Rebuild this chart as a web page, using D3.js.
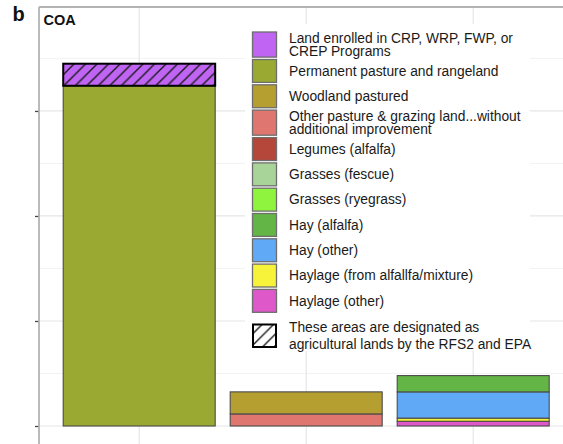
<!DOCTYPE html>
<html><head><meta charset="utf-8">
<script src="https://cdn.jsdelivr.net/npm/d3@7"></script>
<style>html,body{margin:0;padding:0;background:#fff;}svg{display:block;font-family:"Liberation Sans",Arial,sans-serif;}</style>
</head><body><svg id="chart" width="563" height="444"></svg>
<script>
// ---- data (units: one major y tick interval) ----
const categories = ["Pasture", "Grazing land", "Hay & haylage"];
const seriesNames = [
  "Land enrolled in CRP, WRP, FWP, or CREP Programs",
  "Permanent pasture and rangeland",
  "Woodland pastured",
  "Other pasture & grazing land...without additional improvement",
  "Legumes (alfalfa)",
  "Grasses (fescue)",
  "Grasses (ryegrass)",
  "Hay (alfalfa)",
  "Hay (other)",
  "Haylage (from alfallfa/mixture)",
  "Haylage (other)"
];
const legendLabels = [
  ["Land enrolled in CRP, WRP, FWP, or", "CREP Programs"],
  ["Permanent pasture and rangeland"],
  ["Woodland pastured"],
  ["Other pasture & grazing land...without", "additional improvement"],
  ["Legumes (alfalfa)"],
  ["Grasses (fescue)"],
  ["Grasses (ryegrass)"],
  ["Hay (alfalfa)"],
  ["Hay (other)"],
  ["Haylage (from alfallfa/mixture)"],
  ["Haylage (other)"]
];
const seriesColors = ["#c064f4", "#9aa931", "#b49f30", "#e07670", "#b5473a", "#a8d499", "#8ef43e", "#63b545", "#5fa9f6", "#f7f23a", "#df58c9"];
const crpValues        = [0.21, 0, 0];
const permanentValues  = [3.24, 0, 0];
const woodlandValues   = [0, 0.21, 0];
const otherPastureVals = [0, 0.115, 0];
const legumesValues    = [0, 0, 0];
const fescueValues     = [0, 0, 0];
const ryegrassValues   = [0, 0, 0];
const hayAlfalfaValues = [0, 0, 0.155];
const hayOtherValues   = [0, 0, 0.25];
const haylageAlfValues = [0, 0, 0.03];
const haylageOthValues = [0, 0, 0.045];
const hatchedSeries = ["Land enrolled in CRP, WRP, FWP, or CREP Programs"];
const yMajorTicks = [0, 1, 2, 3];
const yMinorTicks = [0.5, 1.5, 2.5, 3.5];
const panelLabel = "b";
const facetTitle = "COA";
const hatchLabel = ["These areas are designated as", "agricultural lands by the RFS2 and EPA"];

const allValues = [crpValues, permanentValues, woodlandValues, otherPastureVals, legumesValues,
  fescueValues, ryegrassValues, hayAlfalfaValues, hayOtherValues, haylageAlfValues, haylageOthValues];
const table = categories.map((c, i) => {
  const row = {category: c};
  seriesNames.forEach((s, j) => row[s] = allValues[j][i]);
  return row;
});

// ---- layout ----
const svg = d3.select("#chart");
const W = 563, H = 444;
const leftX = 39, topY = 7;
const x = d3.scaleBand().domain(categories).range([leftX, 573.4]).paddingInner(0.09).paddingOuter(0.145);
const y = d3.scaleLinear().domain([0, 3.99]).range([426, topY]);
const color = d3.scaleOrdinal().domain(seriesNames).range(seriesColors);

const defs = svg.append("defs");
function hatch(id, bg) {
  const p = defs.append("pattern").attr("id", id).attr("patternUnits", "userSpaceOnUse")
    .attr("width", 11.5).attr("height", 11.5);
  p.append("rect").attr("width", 11.5).attr("height", 11.5).attr("fill", bg);
  p.append("path").attr("d", "M-2,2 L2,-2 M0,11.5 L11.5,0 M9.5,13.5 L13.5,9.5")
    .attr("stroke", "#1a1a1a").attr("stroke-width", 1.4);
}
hatch("hatchPurple", color(seriesNames[0]));
hatch("hatchWhite", "#fff");

// grid
const grid = svg.append("g");
grid.selectAll(".minor").data(yMinorTicks).join("line")
  .attr("x1", leftX).attr("x2", W).attr("y1", d => y(d)).attr("y2", d => y(d))
  .attr("stroke", "#f0f0f0").attr("stroke-width", 0.8);
grid.selectAll(".major").data(yMajorTicks).join("line")
  .attr("x1", leftX).attr("x2", W).attr("y1", d => y(d)).attr("y2", d => y(d))
  .attr("stroke", "#e6e6e6").attr("stroke-width", 1.2);
grid.selectAll(".vx").data(categories).join("line")
  .attr("x1", d => x(d) + x.bandwidth() / 2).attr("x2", d => x(d) + x.bandwidth() / 2)
  .attr("y1", topY).attr("y2", H)
  .attr("stroke", "#e6e6e6").attr("stroke-width", 1.2);

// bars
const stackKeys = seriesNames.slice().reverse();
const stacked = d3.stack().keys(stackKeys)(table);
const barG = svg.append("g");
stacked.forEach(layer => {
  const key = layer.key;
  const isHatch = hatchedSeries.includes(key);
  barG.append("g").selectAll("rect").data(layer.filter(d => d[1] - d[0] > 0)).join("rect")
    .attr("x", d => x(d.data.category))
    .attr("width", x.bandwidth())
    .attr("y", d => y(d[1]))
    .attr("height", d => y(d[0]) - y(d[1]))
    .attr("fill", isHatch ? "url(#hatchPurple)" : color(key))
    .attr("stroke", isHatch ? "#000" : "#4a4a4a")
    .attr("stroke-width", isHatch ? 2 : 1.1);
});

// axis
const axisG = svg.append("g").attr("transform", `translate(${leftX},0)`)
  .call(d3.axisLeft(y).tickValues(yMajorTicks).tickSize(4).tickFormat(""));
axisG.select(".domain").remove();
axisG.selectAll(".tick line").attr("stroke", "#444").attr("stroke-width", 1.3);
svg.append("line").attr("x1", leftX).attr("x2", leftX).attr("y1", topY).attr("y2", H)
  .attr("stroke", "#b3b3b3").attr("stroke-width", 1.8);
svg.append("line").attr("x1", leftX).attr("x2", W).attr("y1", topY).attr("y2", topY)
  .attr("stroke", "#b3b3b3").attr("stroke-width", 1.8);

// titles
svg.append("text").attr("x", 12.5).attr("y", 21).attr("font-size", 20).attr("font-weight", "bold")
  .attr("fill", "#111").text(panelLabel);
svg.append("text").attr("x", 43.5).attr("y", 24.5).attr("font-size", 14.5).attr("font-weight", "bold")
  .attr("fill", "#111").text(facetTitle);

// legend
const lg = svg.append("g");
lg.append("rect").attr("x", 245).attr("y", 24).attr("width", 285).attr("height", 327).attr("fill", "#fff");
const fs = 13.8, lh = 13;
let yy = 32;
const keyX = 252.5, keyW = 24, textX = 289;
legendLabels.forEach((lines, i) => {
  const pitch = lines.length > 1 ? 27.5 : 25.3;
  const kh = pitch - 2.4;
  lg.append("rect").attr("x", keyX).attr("y", yy).attr("width", keyW).attr("height", kh)
    .attr("fill", color(seriesNames[i])).attr("stroke", "#6e6e6e").attr("stroke-width", 1.3);
  const cy = yy + kh / 2;
  const t = lg.append("text").attr("font-size", fs).attr("fill", "#1a1a1a");
  lines.forEach((ln, k) => {
    t.append("tspan").attr("x", textX)
      .attr("y", cy + (k - (lines.length - 1) / 2) * lh + fs * 0.35).text(ln);
  });
  yy += pitch;
});
// hatch key
const hy = 324.5;
lg.append("rect").attr("x", keyX + 0.5).attr("y", hy).attr("width", keyW - 1).attr("height", 22.5)
  .attr("fill", "url(#hatchWhite)").attr("stroke", "#000").attr("stroke-width", 2);
const ht = lg.append("text").attr("font-size", fs).attr("fill", "#1a1a1a");
hatchLabel.forEach((ln, k) => {
  ht.append("tspan").attr("x", textX).attr("y", hy + 11.25 + (k - 0.5) * 16.5 + fs * 0.35).text(ln);
});
</script></body></html>
